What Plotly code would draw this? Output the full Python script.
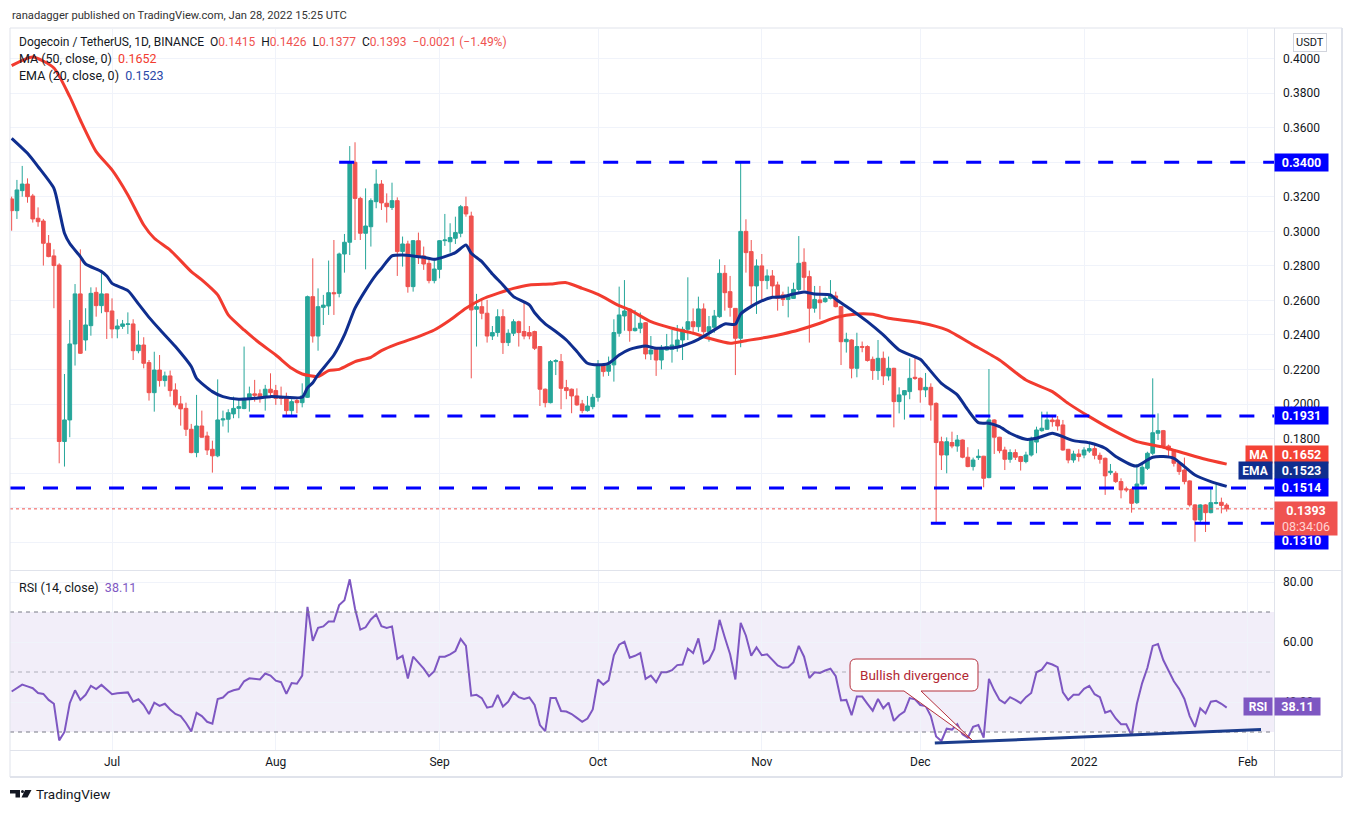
import pandas as pd
import plotly.graph_objects as go

# ---------------- data ----------------
start_date = "2021-06-12"

opens = [
0.3188,0.3120,0.3236,0.3274,0.3205,0.3076,0.3060,0.2931,0.2858,0.2805,
0.1783,0.1908,0.2348,0.2638,0.2371,0.2454,0.2647,0.2570,0.2638,0.2539,
0.2435,0.2450,0.2461,0.2464,0.2309,0.2342,0.2240,0.2066,0.2197,0.2136,
0.2163,0.2082,0.2001,0.1975,0.1854,0.1719,0.1873,0.1815,0.1738,0.1700,
0.1908,0.1912,0.1943,0.1975,0.1974,0.2028,0.2059,0.2059,0.2039,0.2086,
0.2078,0.2039,0.2039,0.1962,0.2020,0.2008,0.2039,0.2622,0.2394,0.2560,
0.2568,0.2645,0.2641,0.2869,0.2937,0.3400,0.3191,0.2989,0.3027,0.3172,
0.3274,0.3163,0.3139,0.3178,0.2883,0.2927,0.2680,0.2946,0.2858,0.2815,
0.2715,0.2780,0.2946,0.2940,0.2960,0.2989,0.3143,0.3089,0.2549,0.2564,
0.2526,0.2394,0.2414,0.2506,0.2356,0.2410,0.2477,0.2420,0.2414,0.2420,
0.2333,0.2086,0.2008,0.2246,0.2246,0.2095,0.2086,0.2047,0.2001,0.1962,
0.1985,0.2039,0.2227,0.2190,0.2227,0.2410,0.2510,0.2549,0.2425,0.2439,
0.2471,0.2290,0.2317,0.2255,0.2313,0.2317,0.2336,0.2371,0.2433,0.2477,
0.2448,0.2551,0.2419,0.2445,0.2506,0.2757,0.2651,0.2554,0.2381,0.3000,
0.2883,0.2684,0.2800,0.2715,0.2742,0.2690,0.2632,0.2606,0.2612,0.2664,
0.2821,0.2738,0.2555,0.2603,0.2593,0.2612,0.2626,0.2564,0.2361,0.2371,
0.2207,0.2333,0.2333,0.2259,0.2194,0.2265,0.2163,0.2207,0.2014,0.2053,
0.2072,0.2155,0.2149,0.2082,0.2097,0.2004,0.1782,0.1705,0.1777,0.1757,
0.1792,0.1692,0.1638,0.1690,0.1698,0.1574,0.1908,0.1808,0.1734,0.1680,
0.1719,0.1696,0.1667,0.1705,0.1780,0.1846,0.1854,0.1908,0.1908,0.1879,
0.1738,0.1676,0.1711,0.1705,0.1728,0.1742,0.1703,0.1686,0.1603,0.1599,
0.1551,0.1509,0.1506,0.1429,0.1537,0.1628,0.1715,0.1831,0.1846,0.1757,
0.1734,0.1657,0.1618,0.1555,0.1416,0.1329,0.1416,0.1371,0.1425,0.1431,
0.1415]

highs = [
0.3201,0.3298,0.3379,0.3307,0.3217,0.3139,0.3072,0.2979,0.2896,0.2815,
0.2174,0.2487,0.2695,0.2896,0.2555,0.2676,0.2676,0.2757,0.2640,0.2612,
0.2491,0.2487,0.2531,0.2491,0.2425,0.2387,0.2255,0.2303,0.2284,0.2188,
0.2194,0.2120,0.2047,0.2008,0.1885,0.2053,0.1962,0.1840,0.1788,0.2143,
0.1962,0.1970,0.2043,0.2028,0.2333,0.2101,0.2140,0.2085,0.2111,0.2178,
0.2111,0.2101,0.2066,0.2028,0.2039,0.2120,0.2628,0.2844,0.2670,0.2632,
0.2831,0.2950,0.2877,0.2985,0.3494,0.3516,0.3200,0.3249,0.3191,0.3359,
0.3297,0.3220,0.3282,0.3197,0.2970,0.2946,0.2950,0.2993,0.2912,0.2838,
0.2838,0.2950,0.3101,0.3047,0.3085,0.3153,0.3201,0.3114,0.2638,0.2603,
0.2603,0.2452,0.2549,0.2549,0.2433,0.2491,0.2483,0.2593,0.2452,0.2425,
0.2336,0.2090,0.2255,0.2260,0.2290,0.2140,0.2090,0.2091,0.2024,0.2047,
0.2059,0.2255,0.2230,0.2275,0.2491,0.2680,0.2718,0.2554,0.2545,0.2530,
0.2475,0.2394,0.2320,0.2342,0.2406,0.2429,0.2458,0.2448,0.2734,0.2554,
0.2622,0.2583,0.2510,0.2545,0.2838,0.2805,0.2742,0.2556,0.3400,0.3070,
0.2950,0.2838,0.2869,0.2780,0.2776,0.2709,0.2651,0.2680,0.2703,0.2973,
0.2902,0.2773,0.2684,0.2684,0.2622,0.2718,0.2651,0.2568,0.2413,0.2375,
0.2413,0.2362,0.2340,0.2275,0.2371,0.2304,0.2275,0.2210,0.2097,0.2080,
0.2265,0.2278,0.2155,0.2180,0.2120,0.2010,0.1811,0.1807,0.1840,0.1821,
0.1795,0.1750,0.1690,0.1738,0.1700,0.2203,0.1912,0.1810,0.1753,0.1738,
0.1738,0.1700,0.1724,0.1811,0.1869,0.1956,0.1956,0.1937,0.1931,0.1908,
0.1740,0.1730,0.1738,0.1750,0.1769,0.1765,0.1719,0.1690,0.1653,0.1611,
0.1570,0.1522,0.1512,0.1653,0.1653,0.1724,0.2149,0.1946,0.1850,0.1765,
0.1738,0.1660,0.1690,0.1558,0.1420,0.1420,0.1420,0.1512,0.1535,0.1458,
0.1426]

lows = [
0.3004,0.3072,0.3201,0.3166,0.3051,0.3027,0.2802,0.2850,0.2555,0.1657,
0.1638,0.1808,0.2223,0.2290,0.2309,0.2396,0.2506,0.2526,0.2377,0.2381,
0.2381,0.2435,0.2406,0.2255,0.2294,0.2207,0.2020,0.1956,0.2101,0.2101,
0.2043,0.1981,0.1875,0.1815,0.1715,0.1692,0.1805,0.1705,0.1603,0.1692,
0.1870,0.1835,0.1918,0.1918,0.1970,0.1956,0.2014,0.2008,0.1962,0.2039,
0.1995,0.1995,0.1931,0.1937,0.1947,0.1981,0.2035,0.2356,0.2309,0.2458,
0.2516,0.2516,0.2618,0.2761,0.2863,0.2950,0.2950,0.2780,0.2912,0.3134,
0.3124,0.3051,0.3124,0.2742,0.2796,0.2645,0.2651,0.2811,0.2777,0.2699,
0.2699,0.2728,0.2916,0.2877,0.2927,0.2966,0.3085,0.2149,0.2333,0.2491,
0.2356,0.2371,0.2390,0.2290,0.2336,0.2394,0.2333,0.2375,0.2375,0.2313,
0.1989,0.1981,0.2004,0.2168,0.1970,0.2028,0.1947,0.1990,0.1947,0.1956,
0.1970,0.2014,0.2159,0.2163,0.2130,0.2390,0.2425,0.2361,0.2420,0.2410,
0.2259,0.2255,0.2163,0.2201,0.2310,0.2240,0.2303,0.2255,0.2371,0.2413,
0.2419,0.2394,0.2361,0.2413,0.2500,0.2541,0.2506,0.2168,0.2329,0.2761,
0.2574,0.2522,0.2603,0.2665,0.2622,0.2541,0.2568,0.2502,0.2610,0.2641,
0.2660,0.2356,0.2529,0.2491,0.2587,0.2606,0.2560,0.2226,0.2298,0.2149,
0.2155,0.2300,0.2246,0.2140,0.2140,0.2110,0.2136,0.1865,0.1946,0.1910,
0.2028,0.2140,0.2008,0.2040,0.1904,0.1310,0.1618,0.1599,0.1744,0.1724,
0.1686,0.1634,0.1615,0.1676,0.1518,0.1570,0.1711,0.1715,0.1618,0.1660,
0.1676,0.1615,0.1657,0.1696,0.1715,0.1840,0.1850,0.1869,0.1846,0.1730,
0.1657,0.1660,0.1667,0.1686,0.1717,0.1680,0.1655,0.1474,0.1590,0.1543,
0.1454,0.1490,0.1371,0.1421,0.1528,0.1618,0.1705,0.1792,0.1749,0.1696,
0.1638,0.1590,0.1535,0.1406,0.1203,0.1310,0.1259,0.1367,0.1419,0.1367,
0.1377]

closes = [
0.3120,0.3240,0.3274,0.3201,0.3072,0.3056,0.2931,0.2854,0.2802,0.1783,
0.1908,0.2348,0.2638,0.2294,0.2458,0.2641,0.2570,0.2638,0.2535,0.2435,
0.2452,0.2464,0.2464,0.2309,0.2342,0.2236,0.2066,0.2197,0.2136,0.2163,
0.2078,0.1995,0.1972,0.1854,0.1719,0.1873,0.1808,0.1734,0.1700,0.1908,
0.1914,0.1950,0.1975,0.1985,0.2033,0.2059,0.2051,0.2039,0.2086,0.2066,
0.2033,0.2033,0.1962,0.2014,0.2008,0.2047,0.2622,0.2394,0.2564,0.2573,
0.2645,0.2639,0.2869,0.2937,0.3400,0.3191,0.2989,0.3031,0.3178,0.3274,
0.3165,0.3143,0.3178,0.2883,0.2927,0.2680,0.2946,0.2854,0.2811,0.2715,
0.2782,0.2946,0.2950,0.2964,0.2993,0.3143,0.3101,0.2545,0.2564,0.2526,
0.2394,0.2414,0.2506,0.2356,0.2410,0.2477,0.2414,0.2394,0.2394,0.2323,
0.2086,0.2008,0.2246,0.2252,0.2091,0.2078,0.2047,0.1995,0.1962,0.1989,
0.2039,0.2227,0.2188,0.2227,0.2414,0.2516,0.2539,0.2425,0.2439,0.2468,
0.2290,0.2313,0.2255,0.2328,0.2332,0.2342,0.2371,0.2433,0.2477,0.2448,
0.2551,0.2419,0.2448,0.2510,0.2757,0.2645,0.2560,0.2381,0.3000,0.2877,
0.2684,0.2800,0.2715,0.2742,0.2684,0.2612,0.2606,0.2622,0.2664,0.2815,
0.2734,0.2555,0.2606,0.2587,0.2612,0.2626,0.2564,0.2361,0.2375,0.2207,
0.2333,0.2329,0.2252,0.2194,0.2265,0.2163,0.2207,0.2014,0.2053,0.2078,
0.2149,0.2149,0.2082,0.2097,0.1995,0.1777,0.1705,0.1782,0.1757,0.1792,
0.1692,0.1638,0.1676,0.1698,0.1570,0.1908,0.1808,0.1730,0.1680,0.1719,
0.1692,0.1667,0.1705,0.1796,0.1850,0.1860,0.1908,0.1898,0.1873,0.1734,
0.1676,0.1711,0.1696,0.1734,0.1742,0.1703,0.1680,0.1584,0.1611,0.1551,
0.1503,0.1503,0.1425,0.1537,0.1634,0.1715,0.1834,0.1846,0.1757,0.1734,
0.1657,0.1609,0.1551,0.1416,0.1329,0.1416,0.1371,0.1429,0.1429,0.1413,
0.1393]

# MA(50): (day offset from first candle, value)
ma_days = [0,4,8,11,13,16,19,22,25,27,30,34,36,39,41,44,47,50,53,55,58,60,62,65,68,70,73,77,80,83,86,89,92,95,98,102,105,108,111,115,117,121,125,129,132,136,139,143,146,149,153,156,160,163,166,172,177,182,187,192,197,200,204,209,213,218,222,226,230]
ma_vals = [0.3960,0.4010,0.3946,0.3780,0.3645,0.3462,0.3356,0.3211,0.3037,0.2960,0.2892,0.2767,0.2719,0.2632,0.2516,0.2429,0.2352,0.2284,0.2207,0.2174,0.2159,0.2194,0.2201,0.2246,0.2271,0.2309,0.2348,0.2391,0.2429,0.2487,0.2555,0.2607,0.2641,0.2670,0.2690,0.2695,0.2703,0.2670,0.2635,0.2570,0.2545,0.2477,0.2439,0.2410,0.2381,0.2352,0.2367,0.2387,0.2406,0.2429,0.2468,0.2502,0.2522,0.2520,0.2497,0.2471,0.2430,0.2343,0.2255,0.2139,0.2072,0.2004,0.1927,0.1840,0.1782,0.1750,0.1715,0.1680,0.1652]

# EMA(20)
ema_days = [0,3,5,8,9,10,11,13,14,17,18,19,22,24,26,28,31,34,35,38,40,43,46,49,52,55,56,57,58,61,63,65,67,69,70,72,74,76,78,80,82,84,86,87,89,91,93,95,98,99,101,103,105,107,109,111,113,115,117,120,122,126,128,130,132,135,137,138,141,144,146,148,150,152,155,156,159,162,165,168,172,173,176,179,181,183,185,187,189,192,194,197,199,201,204,207,209,212,213,215,216,218,220,222,224,227,230]
ema_vals = [0.3539,0.3452,0.3375,0.3249,0.3124,0.2989,0.2930,0.2854,0.2811,0.2767,0.2742,0.2699,0.2657,0.2580,0.2502,0.2433,0.2333,0.2217,0.2149,0.2072,0.2043,0.2028,0.2033,0.2043,0.2039,0.2039,0.2094,0.2123,0.2170,0.2284,0.2400,0.2555,0.2660,0.2750,0.2785,0.2858,0.2863,0.2858,0.2850,0.2838,0.2854,0.2877,0.2921,0.2873,0.2825,0.2753,0.2690,0.2622,0.2574,0.2529,0.2464,0.2420,0.2371,0.2304,0.2236,0.2227,0.2236,0.2284,0.2317,0.2336,0.2323,0.2329,0.2348,0.2375,0.2410,0.2464,0.2462,0.2522,0.2583,0.2618,0.2622,0.2637,0.2649,0.2637,0.2632,0.2607,0.2545,0.2477,0.2400,0.2313,0.2259,0.2226,0.2120,0.2053,0.1966,0.1892,0.1889,0.1869,0.1831,0.1796,0.1802,0.1831,0.1811,0.1788,0.1776,0.1744,0.1696,0.1647,0.1641,0.1676,0.1692,0.1696,0.1686,0.1638,0.1589,0.1551,0.1523]

# RSI(14), one value per candle
rsi_vals = [
43.5,44.8,45.8,45.2,44.6,43.0,42.7,40.7,39.4,27.2,
30.0,39.6,43.9,40.7,42.4,45.4,44.3,45.7,44.3,42.6,
42.9,43.0,43.2,40.1,40.9,39.0,36.0,39.8,38.7,39.4,
37.5,36.0,35.3,33.0,30.2,36.4,35.3,33.4,32.8,41.0,
41.5,43.2,43.9,44.3,46.9,47.9,47.8,47.5,49.5,48.8,
47.1,46.6,42.7,46.3,46.1,48.8,71.7,60.4,64.7,65.2,
66.8,66.8,72.3,73.9,80.9,71.1,64.1,64.9,67.5,69.2,
65.3,64.7,65.2,54.4,55.4,47.8,55.1,53.1,51.1,48.6,
50.3,55.1,55.1,55.9,57.0,61.0,58.7,42.1,42.4,41.3,
38.1,38.5,42.4,38.5,40.1,43.2,41.6,41.0,41.5,39.0,
32.3,30.3,41.3,41.3,37.0,36.8,36.0,34.7,33.4,34.5,
37.5,47.5,45.8,47.2,55.6,59.1,60.1,54.8,55.4,56.3,
47.7,48.8,46.6,49.9,49.9,50.6,52.3,52.5,57.8,56.3,
61.2,52.9,54.0,57.6,67.4,61.5,55.9,47.5,66.4,62.1,
55.4,58.2,55.6,55.9,54.2,52.2,51.4,51.6,53.3,58.7,
55.1,48.0,49.9,49.7,50.5,51.1,48.6,40.5,40.7,35.6,
41.8,41.8,39.4,37.1,41.0,37.9,39.8,33.7,35.6,36.8,
41.3,40.9,39.0,38.7,35.3,28.5,27.0,31.1,30.8,32.6,
29.2,28.1,31.7,32.3,28.1,47.7,43.9,40.7,39.6,41.6,
40.7,39.6,41.6,43.0,49.9,50.8,53.1,52.5,51.6,43.2,
40.7,42.4,42.4,44.4,45.4,42.6,41.6,36.4,37.1,34.5,
32.6,32.6,28.9,39.4,46.3,51.4,58.7,59.3,54.0,50.6,
46.9,44.4,41.0,35.3,31.7,37.9,36.2,40.1,40.4,39.4,
38.11]

# horizontal levels drawn on the chart: (price, start date)
levels = [(0.3400, "2021-08-13"), (0.1931, "2021-07-27"), (0.1514, None), (0.1310, "2021-12-03")]
last_price = 0.1393
ma_last, ema_last, rsi_last = 0.1652, 0.1523, 38.11

# RSI trend line (date, value)
rsi_trend = [("2021-12-03 18:00", 26.3), ("2022-02-03 12:00", 30.8)]

month_ticks = ["2021-07-01", "2021-08-01", "2021-09-01", "2021-10-01",
               "2021-11-01", "2021-12-01", "2022-01-01", "2022-02-01"]
month_labels = ["Jul", "Aug", "Sep", "Oct", "Nov", "Dec", "2022", "Feb"]
price_ticks = [0.12, 0.14, 0.16, 0.18, 0.20, 0.22, 0.24, 0.26, 0.28, 0.30, 0.32, 0.34, 0.36, 0.38, 0.40]
hidden_price_ticks = [0.12, 0.14, 0.16]   # covered by the value tags in the reference
rsi_ticks = [40, 60, 80]

# ---------------- layout helpers (design coords = screen pixels) ----------------
OFF = 8                       # page body margin of the browser
W, H = 1336, 797
L_M, T_M = 10 - OFF, 29 - OFF
R_M = W - (1274 - OFF)
B_M = H - (750 - OFF)
PW, PH = W - L_M - R_M, H - T_M - B_M

def pxx(x):
    return (x - OFF - L_M) / PW

def pxy(y):
    return (H - B_M - (y - OFF)) / PH

FONT = "Roboto, 'Noto Sans', sans-serif"
GREEN, RED = "#26A69A", "#EF5350"
BLUE = "#0000FF"
MA_C, EMA_C, RSI_C = "#F23B2F", "#0F2E8F", "#7E57C2"
TXT = "#131722"
GRID = "#F0F3FA"
FRAME = "#E0E3EB"

start = pd.Timestamp(start_date)
dates = pd.date_range(start, periods=len(closes), freq="D")
ma_x = [start + pd.Timedelta(days=d) for d in ma_days]
ema_x = [start + pd.Timedelta(days=d) for d in ema_days]
x_range = [pd.Timestamp("2021-06-11 16:30"), pd.Timestamp("2022-02-05 23:00")]

fig = go.Figure()
fig.add_trace(go.Candlestick(
    x=dates, open=opens, high=highs, low=lows, close=closes,
    increasing=dict(line=dict(color=GREEN, width=1), fillcolor=GREEN),
    decreasing=dict(line=dict(color=RED, width=1), fillcolor=RED),
    whiskerwidth=0, xaxis="x", yaxis="y", showlegend=False, hoverinfo="skip"))
fig.add_trace(go.Scatter(x=ma_x, y=ma_vals, mode="lines", xaxis="x", yaxis="y",
                         line=dict(color=MA_C, width=3, shape="spline", smoothing=0.6),
                         showlegend=False, hoverinfo="skip"))
fig.add_trace(go.Scatter(x=ema_x, y=ema_vals, mode="lines", xaxis="x", yaxis="y",
                         line=dict(color=EMA_C, width=3, shape="spline", smoothing=0.6),
                         showlegend=False, hoverinfo="skip"))
fig.add_trace(go.Scatter(x=dates, y=rsi_vals, mode="lines", xaxis="x", yaxis="y2",
                         line=dict(color=RSI_C, width=2),
                         showlegend=False, hoverinfo="skip"))

shapes = []
shapes.append(dict(type="rect", xref="paper", x0=0, x1=1, yref="y2", y0=30, y1=70,
                   fillcolor="rgba(126,87,194,0.10)", line=dict(width=0), layer="below"))
for lv, col in [(70, "#787B86"), (50, "rgba(120,123,134,0.55)"), (30, "#787B86")]:
    shapes.append(dict(type="line", xref="paper", x0=0, x1=0.997, yref="y2", y0=lv, y1=lv,
                       line=dict(color=col, width=1, dash="4px,4px")))
shapes.append(dict(type="line", xref="x", yref="y2",
                   x0=rsi_trend[0][0], y0=rsi_trend[0][1], x1=rsi_trend[1][0], y1=rsi_trend[1][1],
                   line=dict(color="#1C3D8C", width=3)))
for price, d0 in levels:
    x0 = x_range[0] if d0 is None else pd.Timestamp(d0)
    shapes.append(dict(type="line", xref="x", yref="y", x0=x0, x1=x_range[1], y0=price, y1=price,
                       line=dict(color=BLUE, width=3, dash="15px,18px")))
shapes.append(dict(type="line", xref="x", yref="y", x0=x_range[0], x1=x_range[1],
                   y0=last_price, y1=last_price, line=dict(color=RED, width=1, dash="dot")))

def hline(y, x0=10, x1=1342, col=FRAME, w=1):
    shapes.append(dict(type="line", xref="paper", yref="paper", x0=pxx(x0), x1=pxx(x1),
                       y0=pxy(y), y1=pxy(y), line=dict(color=col, width=w)))

def vline(x, y0=28, y1=777, col=FRAME, w=1):
    shapes.append(dict(type="line", xref="paper", yref="paper", x0=pxx(x), x1=pxx(x),
                       y0=pxy(y0), y1=pxy(y1), line=dict(color=col, width=w)))

hline(28)
hline(570.5)
hline(750.5)
hline(777, w=2)
vline(10)
vline(1274.5)
vline(1342, w=2)

def P(x, y):
    return f"{pxx(x):.5f},{pxy(y):.5f}"

callout = ("M " + P(856, 659) + " L " + P(972, 659) + " Q " + P(978, 659) + " " + P(978, 665) +
           " L " + P(978, 685) + " Q " + P(978, 691) + " " + P(972, 691) +
           " L " + P(921, 691) + " L " + P(972, 740) + " L " + P(904, 691) +
           " L " + P(856, 691) + " Q " + P(850, 691) + " " + P(850, 685) +
           " L " + P(850, 665) + " Q " + P(850, 659) + " " + P(856, 659) + " Z")
shapes.append(dict(type="path", xref="paper", yref="paper", path=callout,
                   fillcolor="rgba(255,255,255,0.95)", line=dict(color="#B5303C", width=1)))

logo1 = "M " + P(10, 790) + " L " + P(20, 790) + " L " + P(20, 797.5) + " L " + P(15.5, 797.5) + \
        " L " + P(15.5, 793.5) + " L " + P(10, 793.5) + " Z"
logo2 = "M " + P(25, 790) + " L " + P(31.5, 790) + " L " + P(27.5, 797.5) + " L " + P(21.5, 797.5) + " Z"
shapes.append(dict(type="path", xref="paper", yref="paper", path=logo1, fillcolor=TXT, line=dict(width=0)))
shapes.append(dict(type="path", xref="paper", yref="paper", path=logo2, fillcolor=TXT, line=dict(width=0)))
shapes.append(dict(type="circle", xref="paper", yref="paper", x0=pxx(21), x1=pxx(24), y0=pxy(790), y1=pxy(793),
                   fillcolor=TXT, line=dict(width=0)))

ann = []
NB = "\u00a0"

def text_at(x, y, txt, size=12.5, color=TXT, xanchor="left"):
    ann.append(dict(xref="paper", yref="paper", x=pxx(x), y=pxy(y), text=txt, showarrow=False,
                    xanchor=xanchor, yanchor="middle", font=dict(family=FONT, size=size, color=color)))

text_at(10, 15, "ranadagger published on TradingView.com, Jan 28, 2022 15:25 UTC", size=11.2, color="#333333")

def red(v):
    return f"<span style='color:{RED}'>{v}</span>"

line1 = ("Dogecoin / TetherUS, 1D, BINANCE" + NB * 2 + "O" + red("0.1415") + NB + " H" + red("0.1426") +
         NB + " L" + red("0.1377") + NB + " C" + red("0.1393") + NB + " " + red("\u22120.0021 (\u22121.49%)"))
text_at(17, 42, line1, size=12)
text_at(17, 59, "MA (50, close, 0)" + NB * 2 + f"<span style='color:{MA_C}'>{ma_last:.4f}</span>", size=12.5)
text_at(17, 76, "EMA (20, close, 0)" + NB * 2 + f"<span style='color:#2A48A8'>{ema_last:.4f}</span>", size=12.5)
text_at(17, 587, "RSI (14, close)" + NB * 2 + f"<span style='color:{RSI_C}'>{rsi_last:.2f}</span>", size=12.5)
text_at(914, 675, "Bullish divergence", size=13.5, color="#B22833", xanchor="center")
text_at(34, 794, "TradingView", size=13.5, color=TXT)

ann.append(dict(xref="paper", yref="paper", x=pxx(1310), y=pxy(43), text="USDT", showarrow=False,
                xanchor="center", yanchor="middle", font=dict(family=FONT, size=11, color=TXT),
                bgcolor="white", bordercolor="#D1D4DC", borderwidth=1, borderpad=2))

def value_tag(yref, y, txt, bg, yshift=0, fg="white", width=49):
    ann.append(dict(xref="paper", x=1, xanchor="left", yref=yref, y=y, yanchor="middle", yshift=yshift,
                    text=f"<b>{txt}</b>", showarrow=False, bgcolor=bg, width=width, height=13, borderpad=2,
                    font=dict(family=FONT, size=12.5, color=fg), align="center"))

def name_tag(yref, y, txt, bg, width, yshift=0):
    ann.append(dict(xref="paper", x=1, xanchor="right", xshift=-1, yref=yref, y=y, yanchor="middle",
                    yshift=yshift, text=f"<b>{txt}</b>", showarrow=False, bgcolor=bg, width=width,
                    height=13, borderpad=2, font=dict(family=FONT, size=12, color="white"), align="center"))

value_tag("y", 0.3400, "0.3400", BLUE)
value_tag("y", 0.1931, "0.1931", BLUE)
value_tag("y", ma_last, f"{ma_last:.4f}", "#F44336", yshift=10)
name_tag("y", ma_last, "MA", "#F44336", 22, yshift=10)
value_tag("y", ema_last, f"{ema_last:.4f}", EMA_C, yshift=15.5)
name_tag("y", ema_last, "EMA", EMA_C, 29, yshift=15.5)
value_tag("y", 0.1514, "0.1514", BLUE)
value_tag("y", 0.1310, "0.1310", BLUE, yshift=-17)
ann.append(dict(xref="paper", x=1, xanchor="left", yref="y", y=last_price, yanchor="top", yshift=8,
                text=f"<b>{last_price:.4f}</b><br><span style='color:#FFD3D3'>08:34:06</span>",
                showarrow=False, bgcolor=RED, width=60, borderpad=1, align="center",
                font=dict(family=FONT, size=12.5, color="white")))
value_tag("y2", rsi_last, f"{rsi_last:.2f}", RSI_C, yshift=1.5, width=41)
name_tag("y2", rsi_last, "RSI", RSI_C, 24, yshift=1.5)

price_text = ["" if v in hidden_price_ticks else f"{v:.4f}" for v in price_ticks]

fig.update_layout(
    width=W, height=H, margin=dict(l=L_M, r=R_M, t=T_M, b=B_M),
    paper_bgcolor="white", plot_bgcolor="white",
    font=dict(family=FONT, color=TXT, size=12),
    hovermode=False, showlegend=False, dragmode=False,
    boxgap=0.3, boxgroupgap=0,
    shapes=shapes, annotations=ann,
    xaxis=dict(range=x_range, type="date", anchor="y2", tickvals=month_ticks, ticktext=month_labels,
               showgrid=True, gridcolor=GRID, gridwidth=1, zeroline=False, showline=False,
               ticks="", tickfont=dict(family=FONT, size=12, color=TXT), ticklabelstandoff=3,
               rangeslider=dict(visible=False), fixedrange=True),
    yaxis=dict(domain=[pxy(570), 1], range=[0.1039, 0.4172], side="right", anchor="x",
               tickvals=price_ticks, ticktext=price_text,
               showgrid=True, gridcolor=GRID, zeroline=False, showline=False, ticks="",
               tickfont=dict(family=FONT, size=12, color=TXT), ticklabelstandoff=8, fixedrange=True),
    yaxis2=dict(domain=[0, pxy(571)], range=[24.0, 83.67], side="right", anchor="x",
                tickvals=rsi_ticks, ticktext=[f"{v:.2f}" for v in rsi_ticks],
                showgrid=True, gridcolor=GRID, zeroline=False, showline=False, ticks="",
                tickfont=dict(family=FONT, size=12, color=TXT), ticklabelstandoff=8, fixedrange=True),
)

fig.write_html("out.html")
